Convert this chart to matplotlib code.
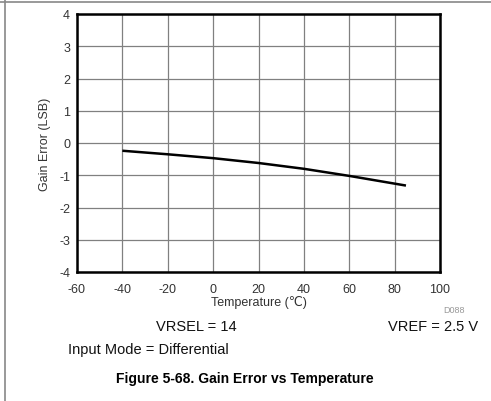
import matplotlib
matplotlib.use("Agg")
import matplotlib.pyplot as plt
from matplotlib.lines import Line2D

plt.rcParams['font.family'] = ['Liberation Sans', 'DejaVu Sans']
plt.rcParams['axes.unicode_minus'] = False

temperature = [-40, -20, 0, 20, 40, 60, 85]
gain_error = [-0.24, -0.35, -0.47, -0.62, -0.80, -1.02, -1.32]
x_ticks = [-60, -40, -20, 0, 20, 40, 60, 80, 100]
y_ticks = [-4, -3, -2, -1, 0, 1, 2, 3, 4]

W, H = 491, 402
fig = plt.figure(figsize=(W / 100, H / 100), dpi=100)
ax = fig.add_axes([77 / W, 1 - 273 / H, (440 - 77) / W, (273 - 15) / H])

ax.plot(temperature, gain_error, color='black', lw=1.8, solid_capstyle='butt')
ax.set_xlim(-60, 100)
ax.set_ylim(-4, 4)
ax.set_xticks(x_ticks)
ax.set_yticks(y_ticks)
ax.grid(True, color='#808080', lw=0.9)
ax.set_axisbelow(True)
ax.tick_params(length=0, labelsize=9, colors='#333333')
ax.tick_params(axis='x', pad=8)
ax.tick_params(axis='y', pad=5)
for s in ax.spines.values():
    s.set_linewidth(1.8)
    s.set_color('black')

ax.set_xlabel('Temperature (℃)', fontsize=9, labelpad=0, color='#333333')
ax.set_ylabel('Gain Error (LSB)', fontsize=9, labelpad=6, color='#333333')

fig.text(465 / W, 1 - 311 / H, 'D088', fontsize=6.5, color='#999999', ha='right', va='center')
fig.text(196 / W, 1 - 327 / H, 'VRSEL = 14', fontsize=10.5, ha='center', va='center', color='#111111')
fig.text(478 / W, 1 - 327 / H, 'VREF = 2.5 V', fontsize=10.5, ha='right', va='center', color='#111111')
fig.text(68 / W, 1 - 350 / H, 'Input Mode = Differential', fontsize=10.5, ha='left', va='center', color='#111111')
fig.text(245 / W, 1 - 379 / H, 'Figure 5-68. Gain Error vs Temperature', fontsize=10,
         fontweight='bold', ha='center', va='center', color='black')

fig.add_artist(Line2D([5 / W, 5 / W], [0, 1], transform=fig.transFigure, color='#888888', lw=1.2))
fig.add_artist(Line2D([0, 1], [1 - 2.7 / H, 1 - 2.7 / H], transform=fig.transFigure, color='#888888', lw=1.2))

fig.savefig('out.png', dpi=100)
